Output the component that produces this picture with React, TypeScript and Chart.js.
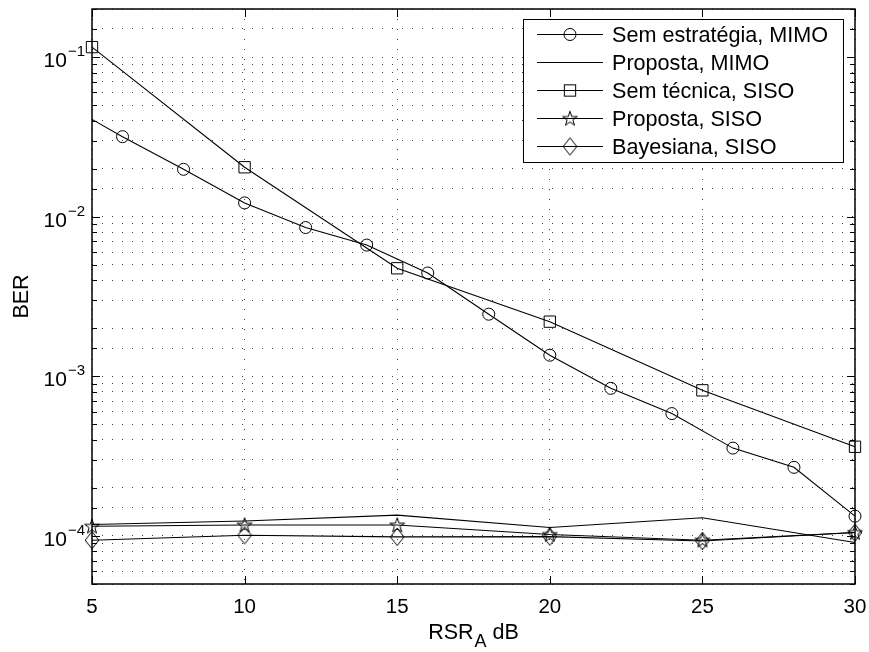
import React, { useEffect, useRef } from "react";
import { Chart, registerables } from "chart.js";

Chart.register(...registerables);

// ---- data ----
const xMimo = [5, 6, 8, 10, 12, 14, 16, 18, 20, 22, 24, 26, 28, 30];
const berSemEstrategiaMimo = [0.0407, 0.0317, 0.0198, 0.0122, 0.00855, 0.00664, 0.00444, 0.00245, 0.001356, 0.000841, 0.000584, 0.000355, 0.000269, 0.000133];
const xSiso = [5, 10, 15, 20, 25, 30];
const berPropostaMimo = [0.000118, 0.000124, 0.000135, 0.000113, 0.00013, 0.000091];
const berSemTecnicaSiso = [0.1154, 0.0204, 0.00475, 0.0022, 0.000817, 0.000362];
const berPropostaSiso = [0.000115, 0.000117, 0.000117, 0.000102, 0.000094, 0.000105];
const berBayesianaSiso = [0.000094, 0.000101, 0.0000986, 0.000099, 0.000093, 0.000105];
const seriesLabels = [
  "Sem estratégia, MIMO",
  "Proposta, MIMO",
  "Sem técnica, SISO",
  "Proposta, SISO",
  "Bayesiana, SISO",
];
const xTickValues = [5, 10, 15, 20, 25, 30];
const yDecadeExponents = [-4, -3, -2, -1];
const xAxisTitleMain = "RSR";
const xAxisTitleSub = "A";
const xAxisTitleTail = " dB";
const yAxisTitle = "BER";

const FONT = '"Liberation Sans", Arial, Helvetica, sans-serif';

function makeStar(): HTMLCanvasElement {
  const c = document.createElement("canvas");
  c.width = 18;
  c.height = 18;
  const g = c.getContext("2d")!;
  const cx = 9, cy = 9.5, R = 7.8, r = R * 0.382;
  g.beginPath();
  for (let i = 0; i < 10; i++) {
    const ang = -Math.PI / 2 + (i * Math.PI) / 5;
    const rr = i % 2 === 0 ? R : r;
    const px = cx + rr * Math.cos(ang);
    const py = cy + rr * Math.sin(ang);
    if (i === 0) g.moveTo(px, py);
    else g.lineTo(px, py);
  }
  g.closePath();
  g.strokeStyle = "#000";
  g.lineWidth = 1;
  g.stroke();
  return c;
}

function makeDiamond(): HTMLCanvasElement {
  const c = document.createElement("canvas");
  c.width = 16;
  c.height = 20;
  const g = c.getContext("2d")!;
  const cx = 8, cy = 10, hw = 6.8, hh = 8.6;
  g.beginPath();
  g.moveTo(cx, cy - hh);
  g.lineTo(cx + hw, cy);
  g.lineTo(cx, cy + hh);
  g.lineTo(cx - hw, cy);
  g.closePath();
  g.strokeStyle = "#000";
  g.lineWidth = 1;
  g.stroke();
  return c;
}

function toPoints(xs: number[], ys: number[]) {
  return xs.map((x, i) => ({ x, y: ys[i] }));
}

function drawMarker(ctx: CanvasRenderingContext2D, style: any, radius: number, x: number, y: number) {
  if (!style || radius <= 0) return;
  ctx.save();
  ctx.strokeStyle = "#000";
  ctx.lineWidth = 1;
  if (typeof style === "object") {
    ctx.drawImage(style, x - style.width / 2, y - style.height / 2);
  } else if (style === "circle") {
    ctx.beginPath();
    ctx.arc(x, y, radius, 0, Math.PI * 2);
    ctx.stroke();
  } else if (style === "rect") {
    const s = Math.SQRT1_2 * radius;
    ctx.strokeRect(x - s, y - s, 2 * s, 2 * s);
  }
  ctx.restore();
}

export default function App() {
  const ref = useRef<HTMLCanvasElement | null>(null);

  useEffect(() => {
    const canvas = ref.current;
    if (!canvas) return;
    const star = makeStar();
    const diamond = makeDiamond();

    const lineCommon = {
      borderColor: "#000",
      borderWidth: 1.1,
      pointBorderColor: "#000",
      pointBackgroundColor: "rgba(0,0,0,0)",
      pointBorderWidth: 1,
      tension: 0,
      clip: false as any,
      fill: false,
    };

    const datasets: any[] = [
      {
        ...lineCommon,
        label: seriesLabels[0],
        data: toPoints(xMimo, berSemEstrategiaMimo),
        pointStyle: "circle",
        pointRadius: xMimo.map((_, i) => (i === 0 ? 0 : 6)),
        legendMarker: "circle",
        legendRadius: 6,
      },
      {
        ...lineCommon,
        label: seriesLabels[1],
        data: toPoints(xSiso, berPropostaMimo),
        pointRadius: 0,
        legendMarker: null,
        legendRadius: 0,
      },
      {
        ...lineCommon,
        label: seriesLabels[2],
        data: toPoints(xSiso, berSemTecnicaSiso),
        pointStyle: "rect",
        pointRadius: 8,
        legendMarker: "rect",
        legendRadius: 8,
      },
      {
        ...lineCommon,
        label: seriesLabels[3],
        data: toPoints(xSiso, berPropostaSiso),
        pointStyle: star,
        pointRadius: 7,
        legendMarker: star,
        legendRadius: 7,
      },
      {
        ...lineCommon,
        label: seriesLabels[4],
        data: toPoints(xSiso, berBayesianaSiso),
        pointStyle: diamond,
        pointRadius: 7,
        legendMarker: diamond,
        legendRadius: 7,
      },
    ];

    const decor = {
      id: "matlabDecor",
      afterDraw(chart: any) {
        const ctx: CanvasRenderingContext2D = chart.ctx;
        const a = chart.chartArea;
        const xs = chart.scales.x;
        const ys = chart.scales.y;
        ctx.save();

        // tick marks (inside, all four sides)
        ctx.strokeStyle = "#000";
        ctx.lineWidth = 1;
        ctx.beginPath();
        for (const t of ys.ticks) {
          const v = t.value;
          const lg = Math.log10(v);
          const major = Math.abs(lg - Math.round(lg)) < 1e-6;
          const len = major ? 8 : 5;
          const py = Math.round(ys.getPixelForValue(v)) + 0.5;
          ctx.moveTo(a.left, py);
          ctx.lineTo(a.left + len, py);
          ctx.moveTo(a.right, py);
          ctx.lineTo(a.right - len, py);
        }
        for (const t of xs.ticks) {
          const px = Math.round(xs.getPixelForValue(t.value)) + 0.5;
          ctx.moveTo(px, a.bottom);
          ctx.lineTo(px, a.bottom - 8);
          ctx.moveTo(px, a.top);
          ctx.lineTo(px, a.top + 8);
        }
        ctx.stroke();

        // box
        ctx.lineWidth = 1.5;
        ctx.strokeRect(a.left, a.top, a.right - a.left, a.bottom - a.top);

        // y tick labels 10^n
        ctx.fillStyle = "#000";
        for (const e of yDecadeExponents) {
          const py = ys.getPixelForValue(Math.pow(10, e));
          const supText = "\u2212" + String(Math.abs(e));
          ctx.font = `15px ${FONT}`;
          ctx.textAlign = "right";
          ctx.textBaseline = "alphabetic";
          const supRight = a.left - 7;
          ctx.fillText(supText, supRight, py - 1);
          const supW = ctx.measureText(supText).width;
          ctx.font = `21px ${FONT}`;
          ctx.fillText("10", supRight - supW - 1, py + 10);
        }

        // x tick labels
        ctx.font = `20.5px ${FONT}`;
        ctx.textAlign = "center";
        ctx.textBaseline = "alphabetic";
        for (const v of xTickValues) {
          const px = xs.getPixelForValue(v);
          ctx.fillText(String(v), px, a.bottom + 28.5);
        }

        // x title with subscript
        const mainFont = `21.5px ${FONT}`;
        const subFont = `18px ${FONT}`;
        ctx.font = mainFont;
        const w1 = ctx.measureText(xAxisTitleMain).width;
        const w3 = ctx.measureText(xAxisTitleTail).width;
        ctx.font = subFont;
        const w2 = ctx.measureText(xAxisTitleSub).width;
        const total = w1 + 1 + w2 + w3;
        const cx = (a.left + a.right) / 2;
        let tx = cx - total / 2;
        ctx.textAlign = "left";
        ctx.font = mainFont;
        ctx.fillText(xAxisTitleMain, tx, a.bottom + 55);
        tx += w1 + 1;
        ctx.font = subFont;
        ctx.fillText(xAxisTitleSub, tx, a.bottom + 63);
        tx += w2;
        ctx.font = mainFont;
        ctx.fillText(xAxisTitleTail, tx, a.bottom + 55);

        // y title
        ctx.save();
        ctx.translate(28, (a.top + a.bottom) / 2);
        ctx.rotate(-Math.PI / 2);
        ctx.font = `21.5px ${FONT}`;
        ctx.textAlign = "center";
        ctx.textBaseline = "alphabetic";
        ctx.fillText(yAxisTitle, 0, 0);
        ctx.restore();

        // legend
        const lx = 523, ly = 19, lw = 320, lh = 143;
        ctx.fillStyle = "#fff";
        ctx.fillRect(lx, ly, lw, lh);
        ctx.strokeStyle = "#000";
        ctx.lineWidth = 1;
        ctx.strokeRect(lx + 0.5, ly + 0.5, lw, lh);
        ctx.font = `21.6px ${FONT}`;
        ctx.textAlign = "left";
        ctx.textBaseline = "alphabetic";
        chart.data.datasets.forEach((ds: any, i: number) => {
          const rowY = 34.5 + i * 28;
          ctx.strokeStyle = "#000";
          ctx.lineWidth = 1.1;
          ctx.beginPath();
          ctx.moveTo(537, rowY);
          ctx.lineTo(603, rowY);
          ctx.stroke();
          drawMarker(ctx, ds.legendMarker, ds.legendRadius, 570, rowY);
          ctx.fillStyle = "#000";
          ctx.fillText(ds.label, 612, rowY + 7.7);
        });

        ctx.restore();
      },
    };

    const chart = new Chart(canvas, {
      type: "line",
      data: { datasets },
      options: {
        responsive: false,
        animation: false,
        devicePixelRatio: 1,
        layout: { padding: { left: 92, right: 14, top: 6, bottom: 68 } },
        plugins: {
          legend: { display: false },
          tooltip: { enabled: false },
          title: { display: false },
        },
        scales: {
          x: {
            type: "linear",
            min: 5,
            max: 30,
            ticks: { display: false, stepSize: 5, autoSkip: false },
            grid: { color: "rgba(0,0,0,0.75)", lineWidth: 1, drawTicks: false },
            border: { display: false, dash: [1, 9] },
          },
          y: {
            type: "logarithmic",
            min: 5e-5,
            max: 0.2,
            ticks: { display: false, autoSkip: false },
            grid: { color: "rgba(0,0,0,0.75)", lineWidth: 1, drawTicks: false },
            border: { display: false, dash: [1, 9] },
          },
        },
      },
      plugins: [decor],
    });

    return () => chart.destroy();
  }, []);

  return (
    <div style={{ position: "fixed", left: 0, top: 0, width: 869, height: 652, background: "#fff" }}>
      <canvas ref={ref} width={869} height={652} style={{ display: "block" }} />
    </div>
  );
}
